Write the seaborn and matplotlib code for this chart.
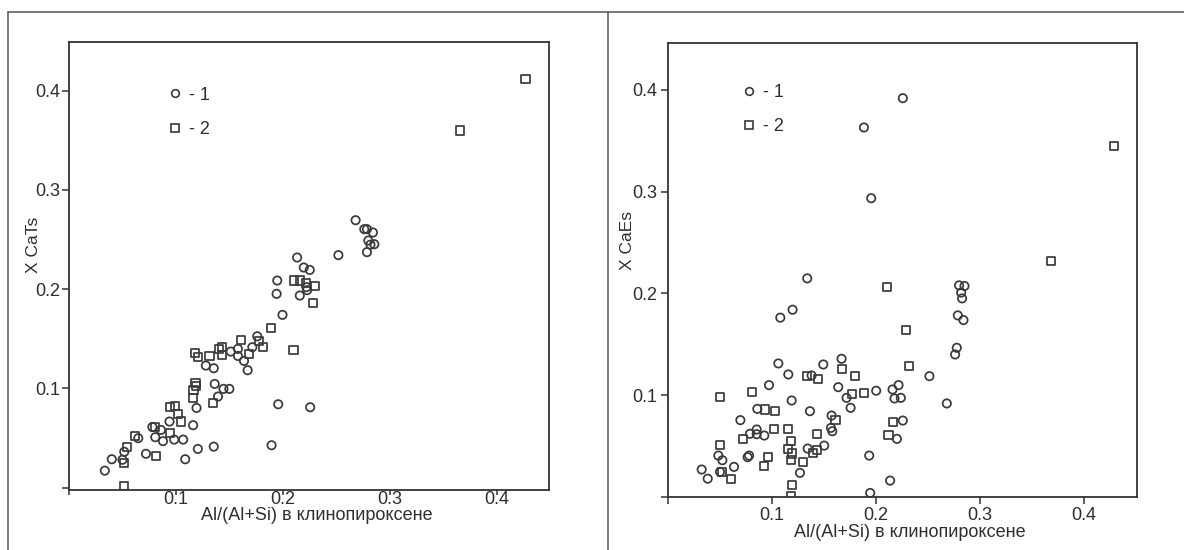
import matplotlib
matplotlib.use("Agg")
import matplotlib.pyplot as plt
from matplotlib.lines import Line2D
import seaborn as sns
import pandas as pd

# ---------------- data ----------------
# Left panel: X CaTs vs Al/(Al+Si)
left_c_x = [0.0335, 0.040, 0.050, 0.0517, 0.0648, 0.072, 0.078, 0.0807, 0.086, 0.0879,
            0.094, 0.0984, 0.1068, 0.1087, 0.1161, 0.1193, 0.1205, 0.128, 0.1354, 0.1354,
            0.1363, 0.1394, 0.1445, 0.150, 0.1513, 0.158, 0.158, 0.1637, 0.1671, 0.1715,
            0.1761, 0.1895, 0.1957, 0.2256, 0.1997, 0.1942, 0.1948, 0.2159, 0.2221, 0.2228,
            0.2134, 0.2196, 0.2252, 0.252, 0.2681, 0.2762, 0.2787, 0.2843, 0.280, 0.282,
            0.2856, 0.2787]
left_c_y = [0.017, 0.0285, 0.028, 0.036, 0.0497, 0.034, 0.061, 0.0507, 0.058, 0.0467,
            0.0665, 0.0483, 0.0483, 0.0285, 0.0628, 0.0802, 0.0389, 0.1229, 0.1202, 0.0412,
            0.1044, 0.0917, 0.0994, 0.0994, 0.137, 0.1397, 0.1326, 0.1276, 0.1182, 0.1414,
            0.1524, 0.0426, 0.0839, 0.0809, 0.174, 0.1952, 0.2086, 0.1935, 0.2019, 0.1989,
            0.2318, 0.2217, 0.2193, 0.2342, 0.2694, 0.2604, 0.2604, 0.257, 0.2489, 0.2448,
            0.2452, 0.2372]
left_s_x = [0.0512, 0.0512, 0.054, 0.0617, 0.0813, 0.0807, 0.0947, 0.1046, 0.1021, 0.0941,
            0.0988, 0.1161, 0.1165, 0.1183, 0.119, 0.1177, 0.1205, 0.1314, 0.1348, 0.1404,
            0.1435, 0.1435, 0.1606, 0.1684, 0.1777, 0.1811, 0.1892, 0.210, 0.2103, 0.2165,
            0.2221, 0.2302, 0.2284, 0.366, 0.427]
left_s_y = [0.0016, 0.0245, 0.0406, 0.052, 0.0322, 0.0607, 0.0553, 0.0665, 0.0739, 0.0816,
            0.0823, 0.090, 0.0984, 0.1051, 0.102, 0.1354, 0.1313, 0.1327, 0.085, 0.1397,
            0.142, 0.1337, 0.1484, 0.1343, 0.1477, 0.142, 0.1612, 0.1387, 0.2086, 0.2086,
            0.206, 0.2029, 0.1858, 0.3598, 0.4116]

# Right panel: X CaEs vs Al/(Al+Si)
right_c_x = [0.0324, 0.0382, 0.0484, 0.0523, 0.050, 0.0635, 0.0696, 0.0766, 0.078, 0.0788,
             0.0853, 0.0853, 0.0926, 0.0859, 0.0971, 0.1061, 0.1157, 0.1189, 0.1269, 0.1343,
             0.1365, 0.1381, 0.1493, 0.1502, 0.1573, 0.1567, 0.158, 0.1637, 0.1669, 0.1717,
             0.1756, 0.1935, 0.1944, 0.2002, 0.108, 0.1198, 0.1339, 0.1884, 0.1954, 0.2258,
             0.2159, 0.2217, 0.2178, 0.2239, 0.2258, 0.2201, 0.2136, 0.2514, 0.2681, 0.2777,
             0.2761, 0.2787, 0.2841, 0.2799, 0.2851, 0.2819, 0.2828]
right_c_y = [0.027, 0.018, 0.0407, 0.0361, 0.0247, 0.0296, 0.0755, 0.0391, 0.0407, 0.0621,
             0.0663, 0.0617, 0.0604, 0.0866, 0.1099, 0.1312, 0.1204, 0.0948, 0.0237, 0.0476,
             0.0843, 0.1194, 0.1302, 0.0505, 0.080, 0.0679, 0.0646, 0.1079, 0.1358, 0.0974,
             0.0876, 0.0407, 0.004, 0.1044, 0.1762, 0.184, 0.2148, 0.363, 0.2935, 0.3918,
             0.1056, 0.1099, 0.0968, 0.0974, 0.0751, 0.0571, 0.0161, 0.1187, 0.0919, 0.1466,
             0.140, 0.1784, 0.1738, 0.2079, 0.2073, 0.2008, 0.1951]
right_s_x = [0.050, 0.050, 0.0516, 0.0606, 0.0724, 0.0804, 0.0933, 0.1029, 0.0965, 0.0926,
             0.1019, 0.1157, 0.1179, 0.1157, 0.1189, 0.1179, 0.1298, 0.1195, 0.1182, 0.1333,
             0.1435, 0.1435, 0.1397, 0.1439, 0.1669, 0.1797, 0.1772, 0.1887, 0.1611, 0.2105,
             0.229, 0.2316, 0.2162, 0.212, 0.4291, 0.368]
right_s_y = [0.0981, 0.0515, 0.0247, 0.0178, 0.0571, 0.1033, 0.086, 0.0843, 0.0394, 0.0302,
             0.0669, 0.0669, 0.0548, 0.0473, 0.0427, 0.0361, 0.0341, 0.0121, 0.0013, 0.1187,
             0.0621, 0.0461, 0.0434, 0.1161, 0.1259, 0.1187, 0.1014, 0.1024, 0.0755, 0.2063,
             0.1637, 0.129, 0.0739, 0.0611, 0.345, 0.2318]

tick_vals = [0.0, 0.1, 0.2, 0.3, 0.4]
tick_labels = ["", "0.1", "0.2", "0.3", "0.4"]
legend_labels = ["- 1", "- 2"]
xlabel = "Al/(Al+Si) в клинопироксене"
ylabels = ["X CaTs", "X CaEs"]

# ---------------- style ----------------
sns.set_theme(style="white")
plt.rcParams["font.family"] = ["Liberation Sans", "DejaVu Sans"]

EDGE = "#3a3a3a"
TXT = "#2e2e2e"
FS = 13
fig = plt.figure(figsize=(11.84, 5.5), dpi=100)

def frac(px, py):
    return px / 1184.0, 1 - py / 550.0

# outer panel frame lines
for (x0, y0, x1, y1) in [(8.3, 12, 1184, 12), (8.3, 12, 8.3, 550), (607.5, 12, 607.5, 550)]:
    a, b = frac(x0, y0)
    c, d = frac(x1, y1)
    fig.add_artist(Line2D([a, c], [b, d], transform=fig.transFigure,
                          color="#555555", lw=1.1))

axes_px = [(69, 42, 549, 490), (668, 43, 1137, 497)]
ylims = [(-0.0025, 0.449), (0.0, 0.446)]
xlims = [(0.001, 0.449), (0.0, 0.451)]
panels = [(left_c_x, left_c_y, left_s_x, left_s_y),
          (right_c_x, right_c_y, right_s_x, right_s_y)]
ylab_pos = [(-0.058, 0.547), (-0.070, 0.566)]
xlab_y = [-0.0385, -0.0594]
xtick_len = [3.5, 5]
xpad = [-2.6, 2.5]
ypad = [1.0, 2.5]
leg_anchor = [(0.205, 0.90), (0.157, 0.910)]

for i, (l, t, r, b) in enumerate(axes_px):
    x0, y1 = frac(l, t)
    x1, y0 = frac(r, b)
    ax = fig.add_axes([x0, y0, x1 - x0, y1 - y0])
    cx, cy, sx, sy = panels[i]
    dfc = pd.DataFrame({"x": cx, "y": cy})
    dfs = pd.DataFrame({"x": sx, "y": sy})
    sns.scatterplot(data=dfc, x="x", y="y", ax=ax, marker="o", s=36,
                    facecolor="none", edgecolor=EDGE, linewidth=1.25, legend=False)
    sns.scatterplot(data=dfs, x="x", y="y", ax=ax, marker="s", s=34,
                    facecolor="none", edgecolor=EDGE, linewidth=1.25, legend=False)
    ax.set_xlim(*xlims[i])
    ax.set_ylim(*ylims[i])
    ax.set_xticks(tick_vals)
    ax.set_xticklabels(tick_labels)
    ax.set_yticks(tick_vals)
    ax.set_yticklabels(tick_labels)
    for sp in ax.spines.values():
        sp.set_color("#333333")
        sp.set_linewidth(1.3)
    ax.tick_params(axis="x", direction="out", length=xtick_len[i], width=1.1, color="#333333",
                   labelsize=FS, labelcolor=TXT, pad=xpad[i], bottom=True)
    ax.tick_params(axis="y", direction="out", length=5, width=1.1, color="#333333",
                   labelsize=FS, labelcolor=TXT, pad=ypad[i], left=True)
    ax.set_xlabel(xlabel, fontsize=FS, color=TXT)
    ax.set_ylabel(ylabels[i], fontsize=12.5, color=TXT)
    ax.xaxis.set_label_coords(0.516, xlab_y[i])
    ax.yaxis.set_label_coords(*ylab_pos[i])
    handles = [Line2D([], [], marker="o", ls="none", mfc="none", mec=EDGE, ms=5.5, mew=1.2),
               Line2D([], [], marker="s", ls="none", mfc="none", mec=EDGE, ms=5.5, mew=1.2)]
    ax.legend(handles, legend_labels, loc="upper left", bbox_to_anchor=leg_anchor[i],
              frameon=False, fontsize=FS, handlelength=0.8, handletextpad=0.4,
              labelspacing=0.95, borderpad=0, borderaxespad=0, labelcolor=TXT)

fig.savefig("out.png", dpi=100, facecolor="white")
